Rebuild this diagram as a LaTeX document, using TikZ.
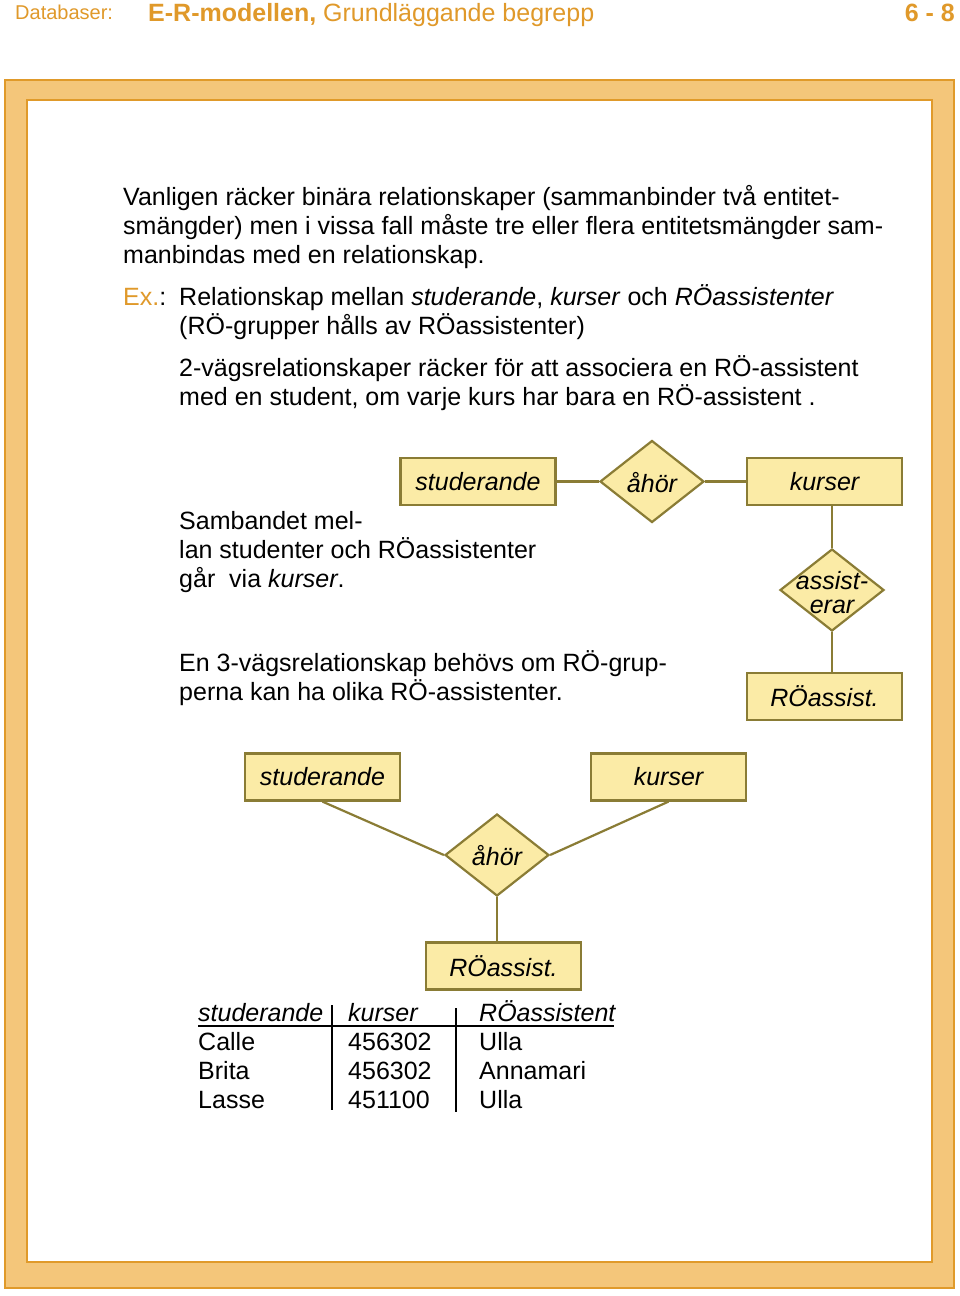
\documentclass[tikz,border=0pt]{standalone}
\usepackage{fontspec}
\setmainfont{Liberation Sans}
\usetikzlibrary{shapes.geometric}
\definecolor{frameFill}{HTML}{F4C67A}
\definecolor{frameLine}{HTML}{E09A2A}
\definecolor{hdr}{HTML}{E0992A}
\definecolor{boxFill}{HTML}{FBEBA6}
\definecolor{boxLine}{HTML}{8A7C35}
\tikzset{
  txt/.style={anchor=base west, inner sep=0pt, font=\fontsize{25}{29}\selectfont},
  ent/.style={draw=boxLine, fill=boxFill, line width=2.2pt, minimum width=155pt, minimum height=47pt, inner sep=0pt, font=\fontsize{25}{29}\selectfont\itshape},
  rel/.style={draw=boxLine, fill=boxFill, line width=2.2pt, shape=diamond, minimum width=104pt, minimum height=82pt, inner sep=0pt},
  reltext/.style={font=\fontsize{25}{24}\selectfont\itshape, align=center, inner sep=0pt},
  conn/.style={draw=boxLine, line width=2.2pt},
  tline/.style={draw=black, line width=2pt}
}
\begin{document}
\begin{tikzpicture}[x=1pt,y=-1pt]
\useasboundingbox (0,0) rectangle (960,1296);
\fill[white] (0,0) rectangle (960,1296);
% header
\node[anchor=base west, inner sep=0pt, text=hdr, font=\fontsize{20}{24}\selectfont] (hdb) at (15,19) {Databaser:};
\node[anchor=base west, inner sep=0pt, text=hdr, font=\fontsize{25}{29}\selectfont] (htitle) at (148,21) {\textbf{E-R-modellen,} Grundläggande begrepp};
\node[anchor=base east, inner sep=0pt, text=hdr, font=\fontsize{25}{29}\selectfont\bfseries] (hnum) at (955,21) {6 - 8};
% frame
\draw[fill=frameFill, draw=frameLine, line width=2pt] (5,80) rectangle (954,1288);
\draw[fill=white, draw=frameLine, line width=1.2pt] (27,100) rectangle (932,1262);
% text
\node[txt] (t1) at (123,205) {Vanligen räcker binära relationskaper (sammanbinder två entitet-};
\node[txt] (t2) at (123,234) {smängder) men i vissa fall måste tre eller flera entitetsmängder sam-};
\node[txt] (t3) at (123,263) {manbindas med en relationskap.};
\node[txt] (t4) at (123,305) {\textcolor{hdr}{Ex.}:};
\node[txt] (t5) at (179,305) {Relationskap mellan \textit{studerande}, \textit{kurser} och \textit{RÖassistenter}};
\node[txt] (t6) at (179,334) {(RÖ-grupper hålls av RÖassistenter)};
\node[txt] (t7) at (179,376) {2-vägsrelationskaper räcker för att associera en RÖ-assistent};
\node[txt] (t8) at (179,405) {med en student, om varje kurs har bara en RÖ-assistent .};
\node[txt] (t9) at (179,529) {Sambandet mel-};
\node[txt] (t10) at (179,558) {lan studenter och RÖassistenter};
\node[txt] (t11) at (179,587) {går\ \ via \textit{kurser}.};
\node[txt] (t12) at (179,671) {En 3-vägsrelationskap behövs om RÖ-grup-};
\node[txt] (t13) at (179,700) {perna kan ha olika RÖ-assistenter.};
% diagram 1
\node[ent] (s1) at (478,481.5) {studerande};
\node[rel] (a1) at (652,481.5) {};
\node[reltext] (a1t) at (652,483) {åhör};
\node[ent] (k1) at (824.5,481.5) {kurser};
\node[rel] (as1) at (832,590) {};
\node[reltext] (as1t) at (832,593) {assist-\\erar};
\node[ent] (r1) at (824.5,696.5) {RÖassist.};
\coordinate (k1b) at (832,505);
\coordinate (r1t) at (832,673);
\draw[conn] (s1.east) -- (a1.west);
\draw[conn] (a1.east) -- (k1.west);
\draw[conn] (k1b) -- (as1.north);
\draw[conn] (as1.south) -- (r1t);
% diagram 2
\node[ent] (s2) at (322.5,777) {studerande};
\node[ent] (k2) at (668.5,777) {kurser};
\node[rel] (a2) at (497,855) {};
\node[reltext] (a2t) at (497,856) {åhör};
\node[ent] (r2) at (503.5,966) {RÖassist.};
\coordinate (r2t) at (497,943);
\draw[conn] (s2.south) -- (a2.west);
\draw[conn] (k2.south) -- (a2.east);
\draw[conn] (a2.south) -- (r2t);
% table
\node[txt, font=\fontsize{25}{29}\selectfont\itshape] (h1) at (198,1021) {studerande};
\node[txt, font=\fontsize{25}{29}\selectfont\itshape] (h2) at (348,1021) {kurser};
\node[txt, font=\fontsize{25}{29}\selectfont\itshape] (h3) at (479,1021) {RÖassistent};
\coordinate (ul1) at (198,1026);
\coordinate (ul2) at (614,1026);
\draw[tline] (ul1) -- (ul2);
\coordinate (v1a) at (332,1005);
\coordinate (v1b) at (332,1110);
\coordinate (v2a) at (456,1008);
\coordinate (v2b) at (456,1112);
\draw[tline] (v1a) -- (v1b);
\draw[tline] (v2a) -- (v2b);
\node[txt] (c11) at (198,1050) {Calle};
\node[txt] (c12) at (348,1050) {456302};
\node[txt] (c13) at (479,1050) {Ulla};
\node[txt] (c21) at (198,1079) {Brita};
\node[txt] (c22) at (348,1079) {456302};
\node[txt] (c23) at (479,1079) {Annamari};
\node[txt] (c31) at (198,1108) {Lasse};
\node[txt] (c32) at (348,1108) {451100};
\node[txt] (c33) at (479,1108) {Ulla};
\end{tikzpicture}
\end{document}
